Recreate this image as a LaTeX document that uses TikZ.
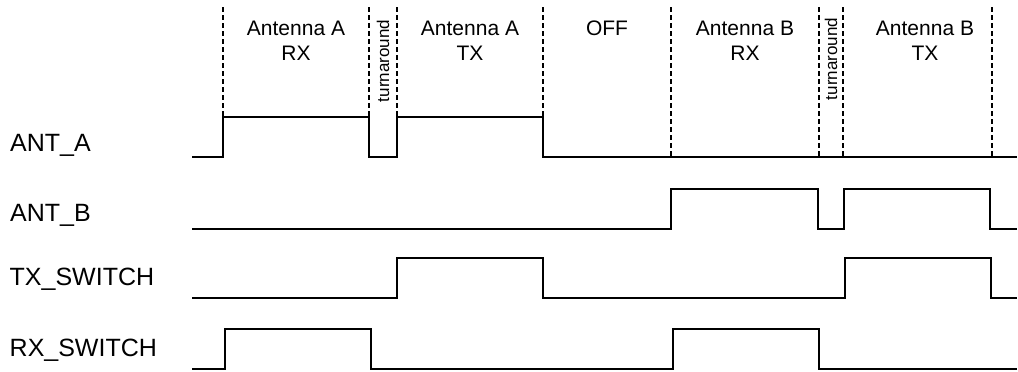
\documentclass[tikz,border=0pt]{standalone}
\usepackage{fontspec}
\setmainfont{Liberation Sans}
\begin{document}
\begin{tikzpicture}[x=1pt,y=-1pt,
  sig/.style={line width=2pt, line join=miter},
  gridline/.style={line width=1.3pt, dash pattern=on 5pt off 3pt},
  lbl/.style={anchor=base west, font=\fontsize{25}{29}\selectfont, inner sep=0pt},
  hdr/.style={align=center, font=\fontsize{21}{25}\selectfont, inner sep=0pt},
  turn/.style={rotate=90, font=\fontsize{17}{20}\selectfont, inner sep=0pt}]
\useasboundingbox (0,0) rectangle (1018,372);
% phase boundaries
\foreach \x in {223,369,397,543,671,819,843,992}
  \draw[gridline] (\x,7) -- (\x,157);
% phase headers
\node[hdr] (h1) at (296,40.5) {Antenna A\\RX};
\node[turn] (t1) at (383,61) {turnaround};
\node[hdr] (h2) at (470,40.5) {Antenna A\\TX};
\node[hdr] (h3) at (607,28) {OFF};
\node[hdr] (h4) at (745,40.5) {Antenna B\\RX};
\node[turn] (t2) at (831,59) {turnaround};
\node[hdr] (h5) at (925,40.5) {Antenna B\\TX};
% signal names
\node[lbl] (la) at (10,151.5) {ANT\_A};
\node[lbl] (lb) at (10,221.5) {ANT\_B};
\node[lbl] (lt) at (9.5,285) {TX\_SWITCH};
\node[lbl] (lr) at (9.5,356) {RX\_SWITCH};
% waveforms
\draw[sig] (192,157) -- (223,157) -- (223,117) -- (369,117) -- (369,157) -- (397,157) -- (397,117) -- (543,117) -- (543,157) -- (1017,157);
\draw[sig] (192,229) -- (671,229) -- (671,189) -- (818,189) -- (818,229) -- (844,229) -- (844,189) -- (990,189) -- (990,229) -- (1017,229);
\draw[sig] (192,298) -- (397,298) -- (397,258) -- (543,258) -- (543,298) -- (845,298) -- (845,258) -- (991,258) -- (991,298) -- (1017,298);
\draw[sig] (192,369) -- (225,369) -- (225,329) -- (371,329) -- (371,369) -- (673,369) -- (673,329) -- (819,329) -- (819,369) -- (1017,369);
\end{tikzpicture}
\end{document}
